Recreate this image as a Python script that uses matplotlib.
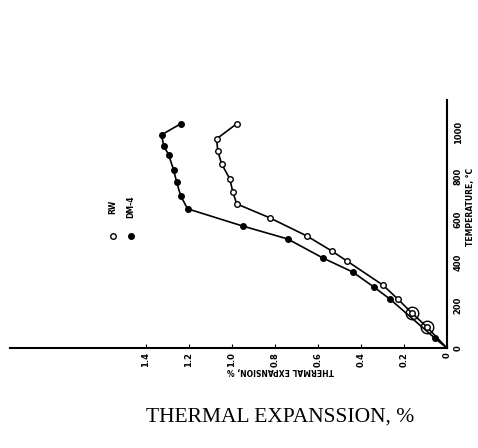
"""Thermal expansion vs temperature, drawn in the rotated layout of the scanned figure."""
import matplotlib
matplotlib.use("Agg")
import matplotlib.pyplot as plt

# RW (open circles)
rw_exp = [0.0, 0.093, 0.163, 0.228, 0.298, 0.465, 0.535, 0.651, 0.823, 0.977,
          0.995, 1.009, 1.047, 1.065, 1.070, 0.977]
rw_temp = [0, 98, 163, 228, 293, 405, 451, 521, 605, 670,
           726, 786, 856, 916, 972, 1042]

# DM-4 (filled circles)
dm_exp = [0.0, 0.056, 0.265, 0.340, 0.437, 0.577, 0.740, 0.949, 1.205, 1.237,
          1.256, 1.270, 1.293, 1.316, 1.326, 1.237]
dm_temp = [0, 46, 228, 284, 353, 419, 507, 567, 647, 707,
           772, 828, 898, 940, 991, 1042]

exp_ticks = [0, 0.2, 0.4, 0.6, 0.8, 1.0, 1.2, 1.4]
exp_labels = ["0", "0.2", "0.4", "0.6", "0.8", "1.0", "1.2", "1.4"]
temp_ticks = [0, 200, 400, 600, 800, 1000]

fig = plt.figure(figsize=(4.78, 4.48), dpi=100)
ax = fig.add_axes([0.021, 0.223, 0.914, 0.554])

ax.plot(rw_exp, rw_temp, "-o", color="black", lw=1.2, ms=4.0, mfc="white",
        mec="black", mew=1.0, markevery=list(range(1, len(rw_exp))))
ax.plot(dm_exp, dm_temp, "-o", color="black", lw=1.2, ms=4.0, mfc="black",
        mec="black", markevery=list(range(1, len(dm_exp))))
# overlapping points near the origin drawn as rings
ax.plot(rw_exp[1:3], rw_temp[1:3], "o", ms=9, mfc="none", mec="black", mew=1.0)

ax.set_xlim(2.03, 0)
ax.set_ylim(0, 1153)

for s in ("left", "top"):
    ax.spines[s].set_visible(False)
ax.spines["bottom"].set_linewidth(1.5)
ax.spines["right"].set_linewidth(1.5)

ax.set_xticks(exp_ticks)
ax.set_xticklabels(exp_labels, rotation=90, fontsize=6, fontweight="bold")
ax.tick_params(axis="x", direction="in", length=3, pad=3)
ax.yaxis.tick_right()
ax.set_yticks(temp_ticks)
ax.set_yticklabels([str(v) for v in temp_ticks], rotation=90, fontsize=6,
                   fontweight="bold", va="center")
ax.tick_params(axis="y", length=0, pad=5)

ax.text(0.62, -0.092, "THERMAL EXPANSION, %", transform=ax.transAxes, rotation=180,
        ha="center", va="center", fontsize=5.5, fontweight="bold")
ax.text(1.055, 0.57, "TEMPERATURE, \u00b0C", transform=ax.transAxes, rotation=90,
        ha="center", va="center", fontsize=5.5, fontweight="bold")

# hand-drawn legend
ax.plot([0.235], [0.45], "o", transform=ax.transAxes, ms=4.0, mfc="white",
        mec="black", mew=1.0, clip_on=False)
ax.plot([0.277], [0.45], "o", transform=ax.transAxes, ms=4.0, mfc="black",
        mec="black", clip_on=False)
ax.text(0.235, 0.57, "RW", transform=ax.transAxes, rotation=90, ha="center",
        va="center", fontsize=5.5, fontweight="bold")
ax.text(0.277, 0.57, "DM-4", transform=ax.transAxes, rotation=90, ha="center",
        va="center", fontsize=5.5, fontweight="bold")

fig.text(0.585, 0.068, "THERMAL EXPANSSION, %", ha="center", va="center",
         fontsize=15.5, family="Liberation Serif")

fig.savefig("out.png", dpi=100, facecolor="white")
